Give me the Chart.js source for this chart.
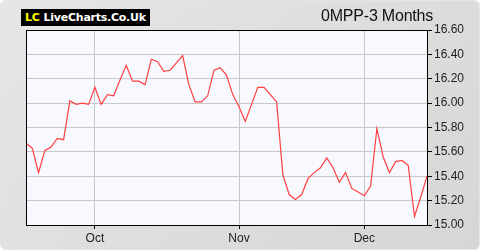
<!DOCTYPE html>
<html>
<head>
<meta charset="utf-8">
<script src="https://cdn.jsdelivr.net/npm/chart.js@4.4.1/dist/chart.umd.min.js"></script>
<style>
  html, body { margin:0; padding:0; background:#fff; }
  #wrap { position:relative; width:480px; height:250px; box-sizing:border-box;
    border-radius:6px; border:1px solid #e4e4e4;
    background: linear-gradient(135deg, #e6e6e6 0%, #d6d6d6 100%); overflow:hidden; }
  #logo { position:absolute; left:20px; top:8px; width:129px; height:17px; background:#000;
    font-family:"DejaVu Sans", sans-serif; font-weight:bold; font-size:11px; line-height:17px;
    letter-spacing:-0.25px; color:#fff; white-space:nowrap; overflow:hidden; }
  #logo .lc { color:#ffff00; margin-left:4px; margin-right:4px; }
  #title { position:absolute; left:320px; top:6px; font-family:"Liberation Sans", Arial, sans-serif;
    font-size:16px; color:#111; letter-spacing:-0.2px; }
  canvas { position:absolute; left:0; top:0; }
</style>
</head>
<body>
<div id="wrap">
  <canvas id="c" width="480" height="250"></canvas>
  <div id="logo"><span class="lc">LC</span>LiveCharts.Co.Uk</div>
  <div id="title">0MPP-3 Months</div>
</div>
<script>
const prices = [15.67,15.63,15.43,15.61,15.64,15.71,15.70,16.02,15.99,16.00,
  15.99,16.13,15.99,16.07,16.06,16.19,16.31,16.18,16.18,16.15,
  16.36,16.34,16.26,16.27,16.33,16.39,16.15,16.01,16.01,16.06,
  16.27,16.29,16.23,16.07,15.97,15.85,15.99,16.13,16.13,16.07,
  16.01,15.41,15.25,15.21,15.25,15.38,15.43,15.47,15.55,15.47,
  15.35,15.43,15.30,15.27,15.24,15.32,15.79,15.56,15.43,15.52,
  15.53,15.49,15.07,15.23,15.40];
const monthLabels = ["Oct","Nov","Dec"];
const monthIndex = [11,34,54];
const yTicks = [15.00,15.20,15.40,15.60,15.80,16.00,16.20,16.40,16.60];

const points = prices.map((v,i)=>({x:i,y:v}));

const borderPlugin = {
  id:'plotBorder',
  beforeDraw(chart){
    const a = chart.chartArea, ctx = chart.ctx;
    ctx.save();
    ctx.fillStyle = '#f8f9ff';
    ctx.fillRect(a.left, a.top, a.right-a.left, a.bottom-a.top);
    ctx.restore();
  },
  afterDraw(chart){
    const a = chart.chartArea, ctx = chart.ctx;
    ctx.save();
    ctx.strokeStyle = '#000';
    ctx.lineWidth = 1;
    ctx.strokeRect(Math.round(a.left)+0.5, Math.round(a.top)+0.5, Math.round(a.right-a.left), Math.round(a.bottom-a.top));
    ctx.restore();
  }
};

new Chart(document.getElementById('c'), {
  type:'line',
  data:{ datasets:[{ data:points, borderColor:'#ff4040', borderWidth:1.2, pointRadius:0, tension:0, fill:false }]},
  options:{
    responsive:false, animation:false, devicePixelRatio:1,
    layout:{ padding:{ left:25, top:29, right:0, bottom:0 } },
    plugins:{ legend:{display:false}, tooltip:{enabled:false} },
    scales:{
      x:{ type:'linear', min:0, max:prices.length-1,
        afterBuildTicks(s){ s.ticks = monthIndex.map(v=>({value:v})); },
        afterFit(s){ s.height = 26; },
        ticks:{ autoSkip:false, maxRotation:0, padding:2, color:'#222',
          font:{family:'"Liberation Sans", Arial, sans-serif', size:12},
          callback(v){ const k = monthIndex.indexOf(v); return k>=0 ? monthLabels[k] : ''; } },
        grid:{ color:'#c8c8c8', tickColor:'#000', tickLength:4, drawOnChartArea:true },
        border:{ color:'#000', width:1 } },
      y:{ position:'right', min:15.0, max:16.6,
        afterBuildTicks(s){ s.ticks = yTicks.map(v=>({value:v})); },
        afterFit(s){ s.width = 54; },
        ticks:{ padding:2, color:'#222', font:{family:'"Liberation Sans", Arial, sans-serif', size:12},
          callback(v){ return Number(v).toFixed(2); } },
        grid:{ color:'#c8c8c8', tickColor:'#000', tickLength:5 },
        border:{ color:'#000', width:1 } }
    }
  },
  plugins:[borderPlugin]
});
</script>
</body>
</html>
